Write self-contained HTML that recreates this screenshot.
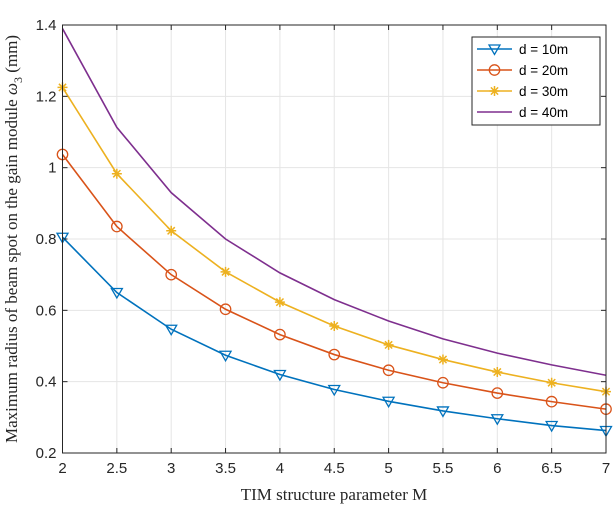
<!DOCTYPE html>
<html><head><meta charset="utf-8"><style>
body{margin:0;background:#fff}
svg{display:block;font-family:"Liberation Sans",sans-serif}
.serif{font-family:"Liberation Serif",serif}
</style></head><body>
<svg id="chart" width="614" height="508" viewBox="0 0 614 508" xmlns="http://www.w3.org/2000/svg">
<rect width="614" height="508" fill="#fff"/>
<g id="grid"></g>
<g id="series"></g>
<g id="axes"></g>
<text class="serif" x="334" y="500" font-size="17" text-anchor="middle" fill="#262626">TIM structure parameter M</text>
<text class="serif" transform="translate(17,239) rotate(-90)" font-size="17" text-anchor="middle" fill="#262626">Maximum radius of beam spot on the gain module <tspan font-style="italic">ω</tspan><tspan font-size="12" dy="5">3</tspan><tspan dy="-5"> (mm)</tspan></text>
<g id="legend"></g>
</svg>
<script>
const xValues=[2,2.5,3,3.5,4,4.5,5,5.5,6,6.5,7];
const d10=[0.805,0.65,0.547,0.474,0.42,0.378,0.345,0.318,0.296,0.277,0.263];
const d20=[1.037,0.835,0.70,0.603,0.532,0.476,0.432,0.397,0.368,0.344,0.323];
const d30=[1.225,0.983,0.823,0.708,0.623,0.556,0.503,0.462,0.427,0.397,0.372];
const d40=[1.39,1.113,0.93,0.80,0.705,0.63,0.57,0.52,0.48,0.447,0.418];
const seriesNames=["d = 10m","d = 20m","d = 30m","d = 40m"];
const xTicks=[2,2.5,3,3.5,4,4.5,5,5.5,6,6.5,7];
const yTicks=[0.2,0.4,0.6,0.8,1,1.2,1.4];

const NS="http://www.w3.org/2000/svg";
const L=62.5,R=606,T=25,B=453;
const sx=v=>L+(v-2)/(7-2)*(R-L);
const sy=v=>B-(v-0.2)/(1.4-0.2)*(B-T);
function mk(tag,attrs,parent){const e=document.createElementNS(NS,tag);for(const k in attrs)e.setAttribute(k,attrs[k]);parent.appendChild(e);return e;}
const grid=document.getElementById('grid'),axes=document.getElementById('axes'),ser=document.getElementById('series'),leg=document.getElementById('legend');
mk('rect',{x:L,y:T,width:R-L,height:B-T,fill:'#fff'},grid);
xTicks.forEach(t=>{
 const g=mk('line',{x1:sx(t),x2:sx(t),y1:T,y2:B,stroke:'#e5e5e5','stroke-width':1},grid);
 
 mk('line',{x1:sx(t),x2:sx(t),y1:B,y2:B-5,stroke:'#262626'},axes);
 mk('line',{x1:sx(t),x2:sx(t),y1:T,y2:T+5,stroke:'#262626'},axes);
 const tx=mk('text',{x:sx(t),y:B+20,'font-size':15,'text-anchor':'middle',fill:'#262626'},axes);tx.textContent=t;
 
});
yTicks.forEach(t=>{
 const g=mk('line',{x1:L,x2:R,y1:sy(t),y2:sy(t),stroke:'#e5e5e5','stroke-width':1},grid);
 
 mk('line',{x1:L,x2:L+5,y1:sy(t),y2:sy(t),stroke:'#262626'},axes);
 mk('line',{x1:R,x2:R-5,y1:sy(t),y2:sy(t),stroke:'#262626'},axes);
 const tx=mk('text',{x:L-6,y:sy(t)+5,'font-size':15,'text-anchor':'end',fill:'#262626'},axes);tx.textContent=t;
 
});
mk('rect',{x:L,y:T,width:R-L,height:B-T,fill:'none',stroke:'#262626','stroke-width':1},axes);

function marker(type,x,y,c,p){
 if(type==='tri'){mk('path',{d:`M${x-5.5},${y-4} L${x+5.5},${y-4} L${x},${y+5.5} Z`,fill:'none',stroke:c,'stroke-width':1.3},p);}
 else if(type==='circ'){mk('circle',{cx:x,cy:y,r:5.2,fill:'none',stroke:c,'stroke-width':1.3},p);}
 else if(type==='star'){const s=5;mk('path',{d:`M${x-s},${y}L${x+s},${y}M${x},${y-s}L${x},${y+s}M${x-3.6},${y-3.6}L${x+3.6},${y+3.6}M${x-3.6},${y+3.6}L${x+3.6},${y-3.6}`,stroke:c,'stroke-width':1.5},p);}
}
const all=[d10,d20,d30,d40];
const colors=['#0072bd','#d95319','#edb120','#7e2f8e'];
const marks=['tri','circ','star',null];
const names=['series-d10','series-d20','series-d30','series-d40'];
all.forEach((data,i)=>{
 const g=mk('g',{},ser);
 
 const pts=data.map((v,j)=>sx(xValues[j])+','+sy(v)).join(' ');
 const pl=mk('polyline',{points:pts,fill:'none',stroke:colors[i],'stroke-width':1.6},g);
 
 if(marks[i])data.forEach((v,j)=>marker(marks[i],sx(xValues[j]),sy(v),colors[i],g));
});
const lx=472,ly=37,lw=128,lh=88;
mk('rect',{x:lx,y:ly,width:lw,height:lh,fill:'#fff',stroke:'#262626','stroke-width':1},leg);
seriesNames.forEach((n,i)=>{
 const y=ly+12+i*21;
 const e=mk('g',{},leg);
 
 mk('line',{x1:lx+5,x2:lx+40,y1:y,y2:y,stroke:colors[i],'stroke-width':1.6},e);
 if(marks[i])marker(marks[i],lx+22.5,y,colors[i],e);
 const t=mk('text',{x:lx+47,y:y+5,'font-size':13.5,fill:'#000'},e);t.textContent=n;
});
</script>
</body></html>
